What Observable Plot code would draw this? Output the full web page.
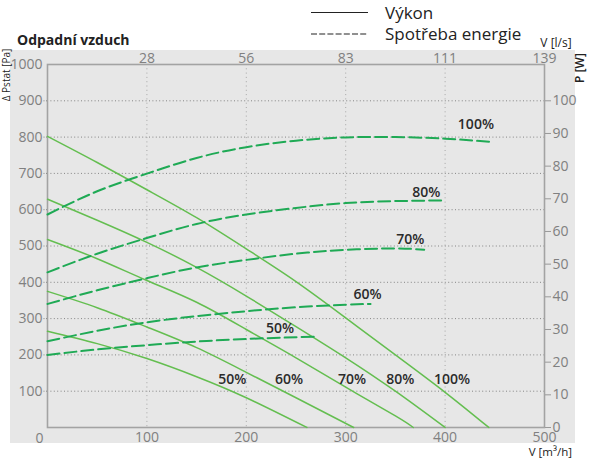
<!DOCTYPE html>
<html>
<head>
<meta charset="utf-8">
<script src="https://cdn.jsdelivr.net/npm/d3@7"></script>
<script src="https://cdn.jsdelivr.net/npm/@observablehq/plot@0.6"></script>
<style>
  html, body { margin: 0; padding: 0; background: #fff; }
  #chart svg { display: block; }
</style>
</head>
<body>
<div id="chart"></div>
<script>
// ---- data ----
// Výkon: static pressure [Pa] vs flow [m³/h]
const vykon100 = [[0,802],[50,730],[100,655],[150,578],[200,492],[250,402],[300,302],[350,200],[400,97],[444,0]];
const vykon80  = [[0,629],[50,571],[100,510],[150,441],[200,362],[250,278],[300,192],[350,100],[400,0]];
const vykon70  = [[0,518],[50,465],[100,405],[150,345],[200,270],[250,192],[300,111],[350,32],[368,0]];
const vykon60  = [[0,375],[50,330],[100,277],[150,220],[200,152],[250,82],[308,0]];
const vykon50  = [[0,265],[50,231],[100,190],[150,140],[200,82],[261,0]];
// Spotřeba energie: power [W] vs flow [m³/h]
const spotreba100 = [[0,65.2],[50,72.3],[100,77.7],[150,82.5],[200,85.8],[250,87.8],[300,88.8],[350,88.9],[400,88.4],[447,87.4]];
const spotreba80  = [[0,47.5],[50,53.2],[100,58],[150,62.3],[200,65.2],[250,67.2],[300,68.7],[350,69.3],[400,69.5]];
const spotreba70  = [[0,37.8],[50,42],[100,45.7],[150,49],[200,51.3],[250,53.2],[300,54.4],[350,54.8],[379,54.4]];
const spotreba60  = [[0,26.4],[50,29.6],[100,32.2],[150,34.1],[200,35.6],[250,36.8],[300,37.6],[325,37.8]];
const spotreba50  = [[0,22.2],[50,23.9],[100,25.2],[150,26.3],[200,27.1],[268,27.8]];

const xTicks = [100, 200, 300, 400, 500];
const yTicks = [100, 200, 300, 400, 500, 600, 700, 800, 900, 1000];
const wTicks = [0, 10, 20, 30, 40, 50, 60, 70, 80, 90, 100];
const PA_PER_W = 9; // right axis: 100 W aligns with 900 Pa

// curve labels
const pLabelText = ["100%", "80%", "70%", "60%", "50%"];
const pLabelX = [431, 381, 365, 322, 234];
const pLabelY = [835, 648, 517, 366, 273];
const vLabelText = ["50%", "60%", "70%", "80%", "100%"];
const vLabelX = [186, 243, 306.5, 355, 407];
const vLabelY = [131.6, 131.6, 131.6, 131.6, 131.6];

// ---- build tables ----
const toRows = (arr, series, f = 1) => arr.map(([x, y]) => ({x, y: y * f, series}));
const solidRows = [
  ...toRows(vykon100, "100%"), ...toRows(vykon80, "80%"), ...toRows(vykon70, "70%"),
  ...toRows(vykon60, "60%"), ...toRows(vykon50, "50%")
];
const dashRows = [
  ...toRows(spotreba100, "100%", PA_PER_W), ...toRows(spotreba80, "80%", PA_PER_W),
  ...toRows(spotreba70, "70%", PA_PER_W), ...toRows(spotreba60, "60%", PA_PER_W),
  ...toRows(spotreba50, "50%", PA_PER_W)
];
const pLabels = pLabelText.map((t, i) => ({t, x: pLabelX[i], y: pLabelY[i]}));
const vLabels = vLabelText.map((t, i) => ({t, x: vLabelX[i], y: vLabelY[i]}));

const tickColor = "#808080";
const solidColor = "#64be50";
const dashColor = "#1faa55";

const chart = Plot.plot({
  width: 596,
  height: 459,
  marginLeft: 47,
  marginRight: 52,
  marginTop: 64,
  marginBottom: 32,
  style: {fontFamily: "'Open Sans', sans-serif", fontSize: "14px", background: "white", overflow: "visible"},
  x: {domain: [0, 500]},
  y: {domain: [0, 1000]},
  marks: [
    Plot.gridY({ticks: yTicks.slice(0, 9), stroke: "#7a7a7a", strokeOpacity: 0.9, strokeDasharray: "1,2.4"}),
    Plot.gridX({ticks: xTicks.slice(0, 4), stroke: "#a0a0a0", strokeOpacity: 0.9, strokeDasharray: "1,3.3"}),
    Plot.frame({stroke: "#a3a3a3", strokeWidth: 1.6}),
    Plot.axisX({anchor: "bottom", ticks: xTicks, tickFormat: d => String(d), tickSize: 0, tickPadding: 5, fill: tickColor, fontSize: 14, label: null}),
    Plot.axisX({anchor: "top", ticks: xTicks, tickFormat: d => String(Math.round(d / 3.6)), tickSize: 0, tickPadding: 2, fill: tickColor, fontSize: 14, label: null}),
    Plot.axisY({anchor: "left", ticks: yTicks, tickFormat: d => String(d), tickSize: 0, tickPadding: 5, fill: tickColor, fontSize: 14, label: null}),
    Plot.axisY({anchor: "left", ticks: yTicks.slice(0, 9), text: null, tickSize: 4, stroke: "#888", strokeDasharray: "1,1.5", label: null}),
    Plot.axisY({anchor: "right", ticks: wTicks.map(w => w * PA_PER_W), tickFormat: d => String(Math.round(d / PA_PER_W)), tickSize: 6, tickPadding: 2, stroke: "#999", fill: tickColor, fontSize: 14, label: null}),
    Plot.text(["0"], {x: 0, y: 0, text: d => d, dx: -8, dy: 11, fill: tickColor, fontSize: 14}),
    Plot.line(solidRows, {x: "x", y: "y", z: "series", stroke: solidColor, strokeWidth: 1.5, curve: "natural"}),
    Plot.line(dashRows, {x: "x", y: "y", z: "series", stroke: dashColor, strokeWidth: 2, strokeDasharray: "12,5", curve: "natural"}),
    Plot.text(pLabels, {x: "x", y: "y", text: "t", fill: "#2b2b2b", fontSize: 14, fontWeight: 600, lineAnchor: "middle"}),
    Plot.text(vLabels, {x: "x", y: "y", text: "t", fill: "#2b2b2b", fontSize: 14, fontWeight: 600, lineAnchor: "middle"})
  ]
});

// decorations: grey panel, title, legend, axis titles
const svg = d3.select(chart);
svg.insert("rect", ":first-child")
  .attr("x", 10).attr("y", 50).attr("width", 565).attr("height", 393)
  .attr("fill", "#e7e7e7");
svg.insert("rect", ":first-child")
  .attr("x", 0).attr("y", 0).attr("width", 596).attr("height", 459).attr("fill", "#fff");

const deco = svg.append("g").attr("font-family", "'Open Sans', sans-serif").attr("fill", "#222")
  .attr("text-anchor", "start");
deco.append("text").attr("x", 17).attr("y", 44.5).attr("font-size", 14).attr("font-weight", 700)
  .attr("text-anchor", "start").text("Odpadní vzduch");
// legend
deco.append("line").attr("x1", 311).attr("x2", 368).attr("y1", 12.5).attr("y2", 12.5)
  .attr("stroke", "#222").attr("stroke-width", 1.1);
deco.append("line").attr("x1", 311).attr("x2", 368).attr("y1", 34).attr("y2", 34)
  .attr("stroke", "#222").attr("stroke-width", 1.1).attr("stroke-dasharray", "6,2.2");
deco.append("text").attr("x", 385).attr("y", 18.5).attr("font-size", 17).attr("text-anchor", "start").text("Výkon");
deco.append("text").attr("x", 385).attr("y", 39.5).attr("font-size", 17).attr("text-anchor", "start").text("Spotřeba energie");
// axis titles
deco.append("text").attr("x", 556).attr("y", 47).attr("font-size", 12).attr("text-anchor", "middle").text("V [l/s]");
deco.append("text").attr("x", 572).attr("y", 456).attr("font-size", 11.5).attr("text-anchor", "end").text("V [m³/h]");
deco.append("text").attr("transform", "translate(584,68) rotate(-90)").attr("font-size", 12)
  .attr("font-weight", 600).attr("text-anchor", "middle").text("P [W]");
deco.append("text").attr("transform", "translate(9.5,75) rotate(-90)").attr("font-size", 10)
  .attr("text-anchor", "middle").text("Δ Pstat [Pa]");

document.getElementById("chart").appendChild(chart);
</script>
</body>
</html>
